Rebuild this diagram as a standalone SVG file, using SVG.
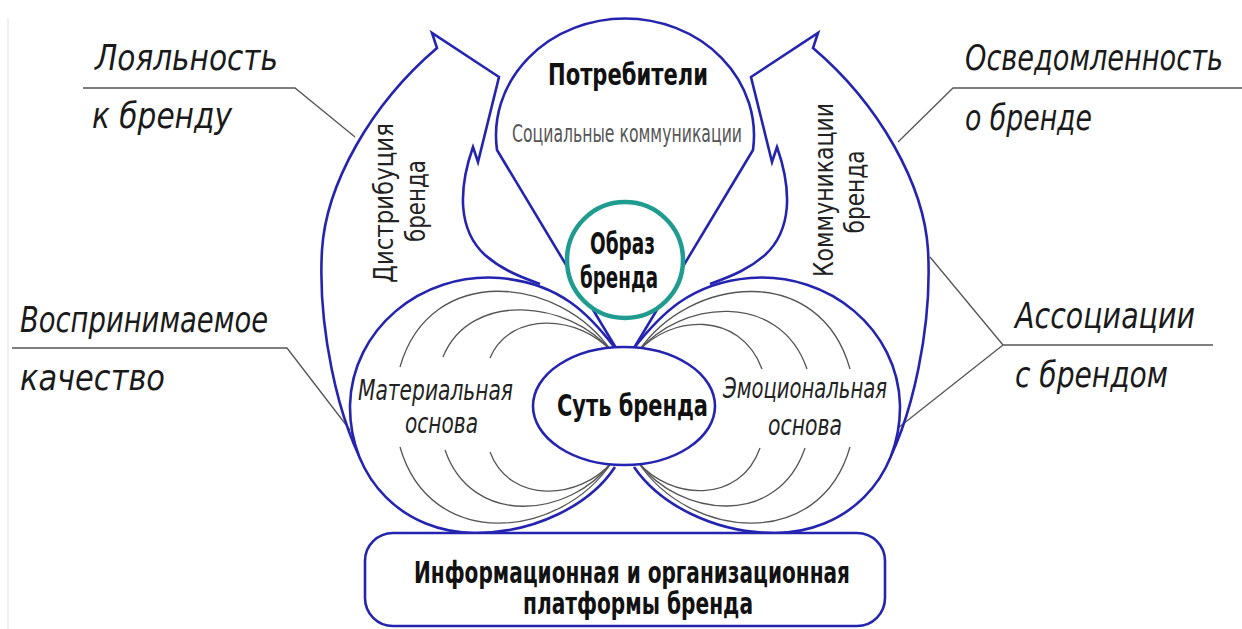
<svg xmlns="http://www.w3.org/2000/svg" width="1242" height="629" viewBox="0 0 1242 629">
<style>
.blue{fill:none;stroke:#2424b0;stroke-width:2.6;stroke-linejoin:miter;stroke-miterlimit:10}
.bluew{fill:#fff;stroke:#2424b0;stroke-width:2.6;stroke-linejoin:miter;stroke-miterlimit:10}
.arc{fill:none;stroke:#555;stroke-width:1.3}
.lead{fill:none;stroke:#555;stroke-width:1.3}
.lbl{font-family:"DejaVu Sans Condensed","Liberation Sans Narrow","DejaVu Sans",sans-serif;font-style:italic;font-size:35px;fill:#1a1a1a;font-stretch:condensed}
.sub{font-family:"DejaVu Sans Condensed","Liberation Sans Narrow","DejaVu Sans",sans-serif;font-style:italic;font-size:29px;fill:#222;font-stretch:condensed}
.ttl{font-family:"DejaVu Sans Condensed","Liberation Sans Narrow","DejaVu Sans",sans-serif;font-size:31px;font-weight:bold;fill:#111;font-stretch:condensed}
.vert{font-family:"DejaVu Sans Condensed","Liberation Sans Narrow","DejaVu Sans",sans-serif;font-size:27px;fill:#222;font-stretch:condensed}
.soc{font-family:"DejaVu Sans Condensed","Liberation Sans Narrow","DejaVu Sans",sans-serif;font-size:24px;fill:#555;font-stretch:condensed}
</style>
<rect x="0" y="0" width="1242" height="629" fill="#fff"/>
<line x1="8" y1="18" x2="8" y2="629" stroke="#e2e2e2" stroke-width="1"/>

<g id="connectors">
<polyline class="lead" points="83,88 295,88 355,137"/>
<polyline class="lead" points="12,348 287,348 350,430"/>
<polyline class="lead" points="1242,88 953,88 898,142"/>
<polyline class="lead" points="1213,345 1003,345 930,257"/>
<line class="lead" x1="1003" y1="345" x2="898" y2="428"/>
</g>

<g id="distribution">
<path class="blue" d="M372,480 C335,420 318,320 322,250 C326,185 370,105 437,48 L432,33 L499,77 L478,162 L473,147 C458,190 458,230 485,255 C500,268 515,275 540,284"/>
<text class="vert" transform="translate(393,203) rotate(-90)" text-anchor="middle" textLength="160" lengthAdjust="spacingAndGlyphs">Дистрибуция</text>
<text class="vert" transform="translate(425,201) rotate(-90)" text-anchor="middle" textLength="82" lengthAdjust="spacingAndGlyphs">бренда</text>
</g>

<g id="communication">
<path class="blue" d="M878,480 C915,420 932,320 928,250 C924,185 880,105 813,48 L818,33 L751,77 L772,162 L777,147 C792,190 792,230 765,255 C750,268 735,275 710,284"/>
<text class="vert" transform="translate(833,190) rotate(-90)" text-anchor="middle" textLength="174" lengthAdjust="spacingAndGlyphs">Коммуникации</text>
<text class="vert" transform="translate(864,192) rotate(-90)" text-anchor="middle" textLength="83" lengthAdjust="spacingAndGlyphs">бренда</text>
</g>

<g id="consumers">
<path class="bluew" d="M616,348 L497,150 A129,117 0 1,1 753,150 L634,348"/>
<text class="ttl" x="548" y="85" textLength="160" lengthAdjust="spacingAndGlyphs">Потребители</text>
<text class="soc" x="512" y="142" textLength="230" lengthAdjust="spacingAndGlyphs">Социальные коммуникации</text>
</g>

<g id="material">
<path class="bluew" d="M615,348 C590,315 560,283 500,278 C420,272 352,330 350,405 C349,480 405,533 475,533 C535,533 590,505 615,467"/>
<path class="arc" d="M612,352 C560,275 430,262 400,367"/>
<path class="arc" d="M612,352 C570,300 470,290 443,357"/>
<path class="arc" d="M612,352 C580,315 510,310 490,358"/>
<path class="arc" d="M612,462 C560,540 430,552 400,447"/>
<path class="arc" d="M612,462 C570,518 472,528 445,450"/>
<path class="arc" d="M612,462 C580,500 510,505 490,452"/>
<text class="sub" x="358" y="400" textLength="155" lengthAdjust="spacingAndGlyphs">Материальная</text>
<text class="sub" x="405" y="433" textLength="73" lengthAdjust="spacingAndGlyphs">основа</text>
</g>

<g id="emotional">
<path class="bluew" d="M634,348 C660,315 690,283 750,278 C830,272 898,330 900,405 C901,480 845,533 775,533 C715,533 660,505 634,467"/>
<path class="arc" d="M638,352 C690,275 820,262 850,369"/>
<path class="arc" d="M638,352 C680,300 780,290 807,369"/>
<path class="arc" d="M638,352 C670,315 740,310 762,369"/>
<path class="arc" d="M638,462 C690,540 820,552 850,447"/>
<path class="arc" d="M638,462 C680,518 778,528 805,448"/>
<path class="arc" d="M638,462 C670,500 740,505 760,448"/>
<text class="sub" x="723" y="398" textLength="164" lengthAdjust="spacingAndGlyphs">Эмоциональная</text>
<text class="sub" x="768" y="435" textLength="74" lengthAdjust="spacingAndGlyphs">основа</text>
</g>

<g id="essence">
<ellipse class="bluew" cx="624" cy="406" rx="91" ry="59"/>
<text class="ttl" x="557" y="416" textLength="151" lengthAdjust="spacingAndGlyphs">Суть бренда</text>
</g>

<g id="image">
<circle cx="625" cy="260" r="58" fill="#fff" stroke="#1f9b8f" stroke-width="4.5"/>
<text class="ttl" x="590" y="254" font-size="28" textLength="65" lengthAdjust="spacingAndGlyphs">Образ</text>
<text class="ttl" x="580" y="288" font-size="28" textLength="78" lengthAdjust="spacingAndGlyphs">бренда</text>
</g>

<g id="platform">
<rect class="bluew" x="365" y="533" width="520" height="93" rx="28" ry="28"/>
<text class="ttl" x="414" y="583" font-size="27" textLength="436" lengthAdjust="spacingAndGlyphs">Информационная и организационная</text>
<text class="ttl" x="523" y="614" font-size="27" textLength="230" lengthAdjust="spacingAndGlyphs">платформы бренда</text>
</g>

<g id="loyalty">
<text class="lbl" x="95" y="70" textLength="183" lengthAdjust="spacingAndGlyphs">Лояльность</text>
<text class="lbl" x="92" y="128" textLength="140" lengthAdjust="spacingAndGlyphs">к бренду</text>
</g>
<g id="quality">
<text class="lbl" x="20" y="332" textLength="248" lengthAdjust="spacingAndGlyphs">Воспринимаемое</text>
<text class="lbl" x="20" y="390" textLength="145" lengthAdjust="spacingAndGlyphs">качество</text>
</g>
<g id="awareness">
<text class="lbl" x="965" y="70" font-size="32" textLength="258" lengthAdjust="spacingAndGlyphs">Осведомленность</text>
<text class="lbl" x="965" y="130" textLength="127" lengthAdjust="spacingAndGlyphs">о бренде</text>
</g>
<g id="associations">
<text class="lbl" x="1015" y="328" textLength="180" lengthAdjust="spacingAndGlyphs">Ассоциации</text>
<text class="lbl" x="1015" y="387" textLength="153" lengthAdjust="spacingAndGlyphs">с брендом</text>
</g>
</svg>
